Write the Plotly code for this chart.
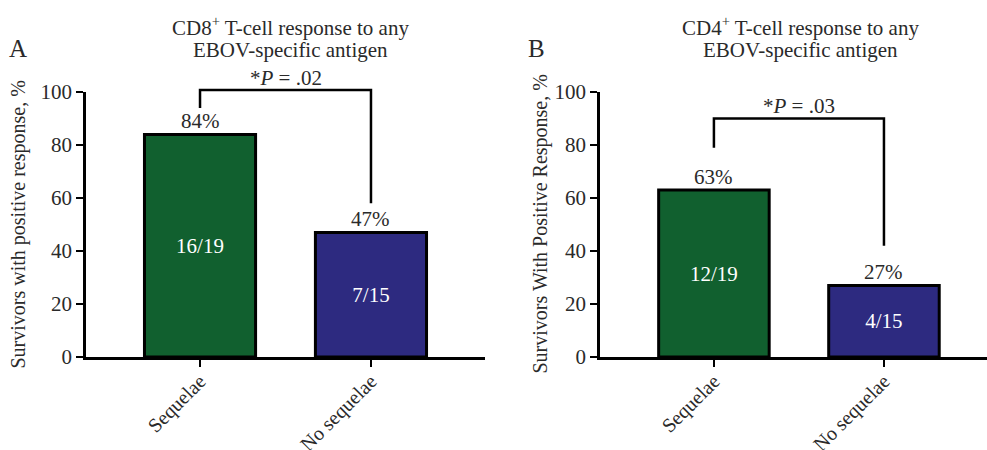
import plotly.graph_objects as go

# ---------------- data ----------------
categories = ["Sequelae", "No sequelae"]
cd8_values = [84, 47]
cd4_values = [63, 27]
cd8_counts = ["16/19", "7/15"]
cd4_counts = ["12/19", "4/15"]
pct_cd8 = ["84%", "47%"]
pct_cd4 = ["63%", "27%"]
y_ticks = [0, 20, 40, 60, 80, 100]
p_labels = ["*<i>P</i> = .02", "*<i>P</i> = .03"]
bracket_tops = [100.8, 90]
bracket_left_bottoms = [94, 79]
bracket_right_bottoms = [58, 42]
title_lines = [["CD8<sup>+</sup> T-cell response to any", "EBOV-specific antigen"],
               ["CD4<sup>+</sup> T-cell response to any", "EBOV-specific antigen"]]
y_titles = ["Survivors with positive response, %",
            "Survivors With Positive Response, %"]
panel_letters = ["A", "B"]

# ---------------- style ----------------
W, H = 987, 450
FONT = "Liberation Serif, Times New Roman, serif"
TXT = "#2a2a2a"
bar_colors = ["#11602F", "#2D2A80"]

yd = [(H - 357) / H, (H - 92) / H]
xd1 = [86 / W, 485 / W]
xd2 = [600 / W, 1.0]
xr1 = [-0.667, 1.667]
xr2 = [-0.67, 1.606]


def ypaper(v):
    return yd[0] + (yd[1] - yd[0]) * v / 100.0


fig = go.Figure()

panels = [
    ("x", "y", cd8_values, cd8_counts, pct_cd8),
    ("x2", "y2", cd4_values, cd4_counts, pct_cd4),
]

annotations = []
shapes = []
for i, (xa, ya, vals, counts, pcts) in enumerate(panels):
    fig.add_trace(go.Bar(
        x=categories, y=vals, xaxis=xa, yaxis=ya,
        marker=dict(color=bar_colors, line=dict(color="black", width=3)),
        width=0.65,
        text=counts, textposition="inside", insidetextanchor="middle",
        textangle=0,
        textfont=dict(family=FONT, size=21, color="white"),
        showlegend=False, hoverinfo="skip",
    ))
    for c, v, p in zip(categories, vals, pcts):
        annotations.append(dict(
            x=c, y=v, xref=xa, yref=ya, text=p, showarrow=False,
            yanchor="middle", yshift=13,
            font=dict(family=FONT, size=21, color=TXT)))
    # significance bracket
    top = ypaper(bracket_tops[i])
    lb = ypaper(bracket_left_bottoms[i])
    rb = ypaper(bracket_right_bottoms[i])
    shapes.append(dict(
        type="path", xref=xa, yref="paper",
        path=f"M 0 {lb} L 0 {top} L 1 {top} L 1 {rb}",
        line=dict(color="black", width=2.5)))
    annotations.append(dict(
        x=0.5, y=top, xref=xa, yref="paper", text=p_labels[i],
        showarrow=False, yanchor="bottom", yshift=-2,
        font=dict(family=FONT, size=21, color=TXT)))

# titles, letters, y titles
title_cx = [290 / W, 800 / W]
title_line_y = [26, 50]
letter_x = [18 / W, 536 / W]
ytitle_x = [18 / W, 540 / W]
for i in range(2):
    for line, ly in zip(title_lines[i], title_line_y):
        annotations.append(dict(
            x=title_cx[i], y=(H - ly) / H, xref="paper", yref="paper",
            text=line, showarrow=False, xanchor="center", yanchor="middle",
            font=dict(family=FONT, size=21, color=TXT)))
    annotations.append(dict(
        x=letter_x[i], y=(H - 48) / H, xref="paper", yref="paper",
        text=panel_letters[i], showarrow=False, xanchor="center", yanchor="middle",
        font=dict(family=FONT, size=25, color=TXT)))
    annotations.append(dict(
        x=ytitle_x[i], y=(yd[0] + yd[1]) / 2, xref="paper", yref="paper",
        text=y_titles[i], showarrow=False, textangle=-90,
        xanchor="center", yanchor="middle",
        font=dict(family=FONT, size=20, color=TXT)))

axis_common = dict(showgrid=False, zeroline=False, showline=True,
                   linecolor="black", linewidth=2.5, ticks="outside",
                   ticklen=7, tickwidth=2, tickcolor="black", automargin=False)
yfont = dict(family=FONT, size=21, color=TXT)
xfont = dict(family=FONT, size=20, color=TXT)

fig.update_layout(
    width=W, height=H,
    margin=dict(l=0, r=0, t=0, b=0, autoexpand=False),
    paper_bgcolor="white", plot_bgcolor="white",
    xaxis=dict(domain=xd1, range=xr1, anchor="y", tickangle=-45, tickfont=xfont,
               ticklabelstandoff=-5, **axis_common),
    yaxis=dict(domain=yd, range=[0, 100], anchor="x", tickvals=y_ticks, tickfont=yfont, **axis_common),
    xaxis2=dict(domain=xd2, range=xr2, anchor="y2", tickangle=-45, tickfont=xfont,
                ticklabelstandoff=-5, **axis_common),
    yaxis2=dict(domain=yd, range=[0, 100], anchor="x2", tickvals=y_ticks, tickfont=yfont, **axis_common),
    annotations=annotations,
    shapes=shapes,
    bargap=0.35,
)

fig.write_html("out.html", config={"displayModeBar": False},
               post_script="document.body.style.margin='0';document.body.style.overflow='hidden';")
